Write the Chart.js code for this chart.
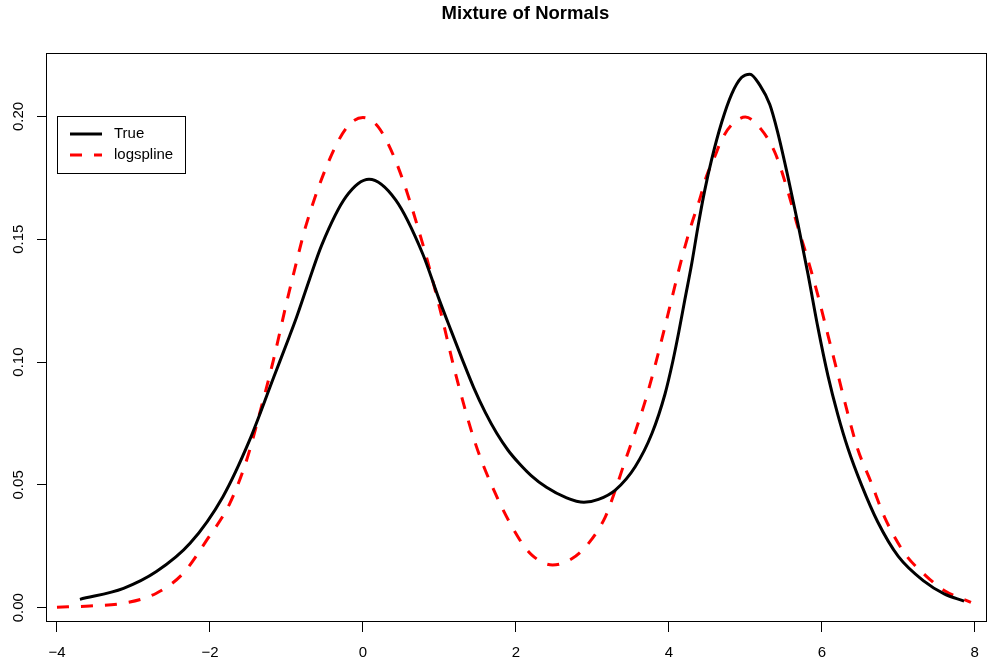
<!DOCTYPE html>
<html>
<head>
<meta charset="utf-8">
<script src="https://cdn.jsdelivr.net/npm/chart.js@4/dist/chart.umd.min.js"></script>
<style>
html,body{margin:0;padding:0;background:#fff;}
#wrap{width:991px;height:664px;}
</style>
</head>
<body>
<div id="wrap"><canvas id="c" width="991" height="664"></canvas></div>
<script>
// ---- data ----
const chartTitle = "Mixture of Normals";
const seriesNames = ["True", "logspline"];

const trueX = [-3.70,-3.13,-2.70,-2.26,-1.83,-1.48,-1.17,-0.96,-0.87,-0.70,-0.54,-0.22,0.08,0.43,0.78,1.00,1.15,1.30,1.45,1.60,1.75,1.90,2.05,2.20,2.40,2.65,2.89,3.08,3.30,3.56,3.78,3.95,4.05,4.13,4.21,4.30,4.38,4.47,4.56,4.69,4.82,4.95,5.06,5.19,5.32,5.42,5.55,5.69,5.82,5.95,6.08,6.21,6.34,6.52,6.73,7.00,7.34,7.60,7.86];
const trueY = [0.0034,0.0079,0.0147,0.0262,0.0452,0.0683,0.0935,0.1105,0.1180,0.1335,0.1475,0.1673,0.1744,0.1659,0.1442,0.1252,0.1130,0.1010,0.0895,0.0795,0.0710,0.0640,0.0585,0.0538,0.0490,0.0449,0.0429,0.0441,0.0479,0.0574,0.0710,0.0870,0.1000,0.1122,0.1255,0.1402,0.1550,0.1700,0.1825,0.1975,0.2090,0.2158,0.2172,0.2127,0.2048,0.1939,0.1764,0.1560,0.1357,0.1139,0.0945,0.0785,0.0650,0.0499,0.0350,0.0209,0.0107,0.0056,0.0027];

const splineX = [-4.00,-3.57,-3.13,-2.70,-2.35,-2.04,-1.74,-1.52,-1.35,-1.17,-1.00,-0.87,-0.75,-0.44,-0.20,0.00,0.20,0.45,0.78,1.00,1.21,1.47,1.73,2.04,2.21,2.48,2.74,2.95,3.17,3.30,3.42,3.56,3.69,3.82,3.95,4.04,4.13,4.21,4.30,4.40,4.49,4.60,4.69,4.82,5.00,5.21,5.39,5.56,5.69,5.82,5.95,6.08,6.21,6.34,6.47,6.64,6.82,7.08,7.34,7.60,7.95];
const splineY = [0.0002,0.0007,0.0018,0.0059,0.0140,0.0276,0.0425,0.0601,0.0791,0.1008,0.1239,0.1405,0.1550,0.1822,0.1959,0.1995,0.1957,0.1802,0.1483,0.1225,0.0954,0.0669,0.0466,0.0282,0.0214,0.0174,0.0201,0.0262,0.0370,0.0479,0.0590,0.0715,0.0840,0.0985,0.1145,0.1260,0.1374,0.1469,0.1564,0.1659,0.1754,0.1836,0.1904,0.1965,0.1997,0.1946,0.1851,0.1691,0.1546,0.1415,0.1270,0.1110,0.0950,0.0790,0.0645,0.0514,0.0369,0.0223,0.0136,0.0070,0.0022];

const xTickValues = [-4,-2,0,2,4,6,8];
const xTickLabels = ["\u22124","\u22122","0","2","4","6","8"];
const yTickValues = [0,0.05,0.10,0.15,0.20];
const yTickLabels = ["0.00","0.05","0.10","0.15","0.20"];

// ---- chart ----
const FONT = "'Liberation Sans', Arial, Helvetica, sans-serif";
const zip = (xs, ys) => xs.map((x, i) => ({x: x, y: ys[i]}));

const framePlugin = {
  id: 'frame',
  afterLayout(chart) {
    // title is centred a little right of the plot centre in the reference
    if (chart.titleBlock) { chart.titleBlock.left += 9; chart.titleBlock.right += 9; }
  },
  afterDraw(chart) {
    const {ctx, chartArea: a} = chart;
    ctx.save();
    ctx.strokeStyle = '#000';
    ctx.lineWidth = 1;
    ctx.strokeRect(Math.round(a.left) + 0.5, Math.round(a.top) + 0.5,
                   Math.round(a.right - a.left) - 1, Math.round(a.bottom - a.top) - 1);
    ctx.restore();
  }
};

const boxLegend = {
  id: 'boxLegend',
  afterDraw(chart) {
    const {ctx, chartArea: a} = chart;
    const bx = Math.round(a.left) + 11, by = Math.round(a.top) + 63;
    const bw = 128, bh = 57;
    ctx.save();
    ctx.fillStyle = '#fff';
    ctx.fillRect(bx, by, bw, bh);
    ctx.strokeStyle = '#000';
    ctx.lineWidth = 1;
    ctx.strokeRect(bx + 0.5, by + 0.5, bw, bh);
    chart.data.datasets.forEach((ds, i) => {
      const y = by + 18 + i * 21;
      ctx.beginPath();
      ctx.strokeStyle = ds.borderColor;
      ctx.lineWidth = ds.borderWidth;
      ctx.setLineDash(ds.borderDash || []);
      ctx.moveTo(bx + 13, y);
      ctx.lineTo(bx + 45, y);
      ctx.stroke();
      ctx.setLineDash([]);
      ctx.fillStyle = '#000';
      ctx.font = '15px ' + FONT;
      ctx.textBaseline = 'middle';
      ctx.textAlign = 'left';
      ctx.fillText(ds.label, bx + 57, y);
    });
    ctx.restore();
  }
};

new Chart(document.getElementById('c'), {
  type: 'line',
  data: {
    datasets: [
      {label: seriesNames[0], data: zip(trueX, trueY), borderColor: '#000000', borderWidth: 3,
       pointRadius: 0, cubicInterpolationMode: 'monotone', fill: false},
      {label: seriesNames[1], data: zip(splineX, splineY), borderColor: '#ff0000', borderWidth: 3,
       borderDash: [12, 12], pointRadius: 0, cubicInterpolationMode: 'monotone', fill: false}
    ]
  },
  options: {
    responsive: false,
    devicePixelRatio: 1,
    animation: false,
    events: [],
    layout: {padding: {left: 0, right: 2, top: 0, bottom: 0}},
    plugins: {
      legend: {display: false},
      tooltip: {enabled: false},
      title: {
        display: true, text: chartTitle, color: '#000', fullSize: false,
        font: {family: FONT, size: 18.5, weight: 'bold', lineHeight: 1.2},
        padding: {top: 3, bottom: 27.8}
      }
    },
    scales: {
      x: {
        type: 'linear', min: -4.1435, max: 8.157,
        border: {display: false},
        grid: {display: true, drawOnChartArea: false, drawTicks: true, tickLength: 10, color: '#000', lineWidth: 1},
        afterBuildTicks: (s) => { s.ticks = xTickValues.map(v => ({value: v})); },
        afterFit: (s) => { s.height = 42; },
        ticks: {
          color: '#000', font: {family: FONT, size: 15}, padding: 12, maxRotation: 0, autoSkip: false,
          callback: (v) => { const i = xTickValues.indexOf(v); return i >= 0 ? xTickLabels[i] : ''; }
        }
      },
      y: {
        type: 'linear', min: -0.00582, max: 0.2258,
        border: {display: false},
        grid: {display: true, drawOnChartArea: false, drawTicks: true, tickLength: 9, color: '#000', lineWidth: 1},
        afterBuildTicks: (s) => { s.ticks = yTickValues.map(v => ({value: v})); },
        afterFit: (s) => { s.width = 46; },
        ticks: {
          color: '#000', font: {family: FONT, size: 15}, padding: 4, minRotation: 90, maxRotation: 90,
          crossAlign: 'center', autoSkip: false,
          callback: (v) => { const i = yTickValues.findIndex(t => Math.abs(t - v) < 1e-9); return i >= 0 ? yTickLabels[i] : ''; }
        }
      }
    }
  },
  plugins: [framePlugin, boxLegend]
});
</script>
</body>
</html>
